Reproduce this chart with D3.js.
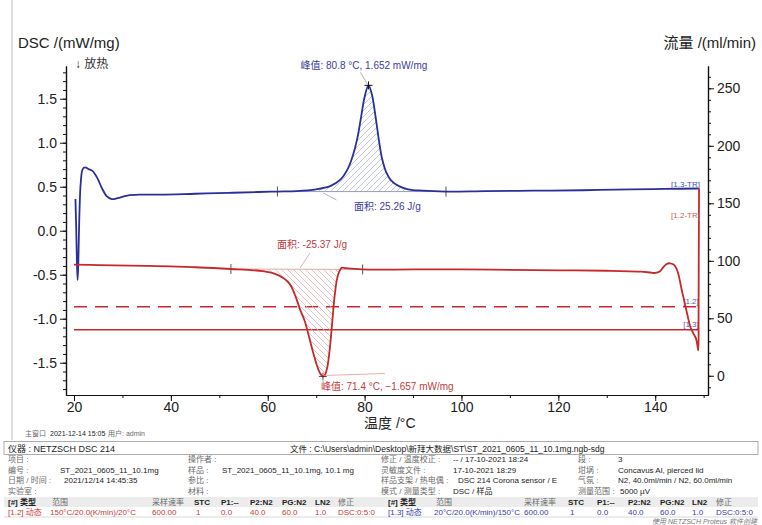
<!DOCTYPE html>
<html><head><meta charset="utf-8">
<script src="https://cdn.jsdelivr.net/npm/d3@7"></script>
<style>
body{margin:0;background:#fff;}
svg{display:block;font-family:"Liberation Sans",Arial,"Noto Sans CJK SC",sans-serif;}
</style>
</head><body>
<svg id="c" width="762" height="525"></svg>
<script>
// ---------- data ----------
// [1.3] heating 20 -> 150 °C  (DSC, mW/mg)
const blueT = [20.3,20.45,20.6,20.75,20.9,21.1,21.4,21.8,22.3,23.0,23.8,24.8,25.8,26.8,27.8,29.0,31.0,34.0,38.0,45.0,52.0,58.0,62.0,66.0,70.0,73.0,75.0,76.5,77.5,78.5,79.3,80.0,80.8,81.5,82.2,82.9,83.6,84.5,85.5,87.0,89.0,92.0,96.8,105,115,125,135,142,149.0];
const blueV = [0.36,0.05,-0.35,-0.56,-0.35,0.15,0.55,0.70,0.72,0.70,0.68,0.60,0.48,0.39,0.36,0.37,0.40,0.41,0.41,0.42,0.43,0.44,0.445,0.45,0.47,0.51,0.58,0.70,0.84,1.05,1.30,1.52,1.652,1.55,1.32,1.05,0.82,0.66,0.57,0.51,0.47,0.455,0.445,0.45,0.455,0.46,0.47,0.475,0.48];
// [1.2] cooling 150 -> 20 °C  (DSC, mW/mg)
const redT = [149.05,149.0,148.95,148.9,148.7,148.4,147.9,147.3,146.7,146.1,145.5,144.9,144.4,143.8,143.0,142.3,141.6,141.0,140.0,139.0,137.0,130,120,110,100,90,79.6,76.0,75.3,74.8,74.3,73.8,73.3,72.8,72.3,71.8,71.4,70.8,70.1,69.3,68.5,67.6,66.7,65.7,64.6,63.3,61.5,59.0,56.0,52.4,45,35,25,20.0];
const redV = [0.48,-0.2,-1.0,-1.36,-1.30,-1.22,-1.17,-1.10,-0.97,-0.82,-0.68,-0.52,-0.43,-0.385,-0.37,-0.38,-0.42,-0.46,-0.48,-0.475,-0.465,-0.455,-0.45,-0.445,-0.44,-0.44,-0.44,-0.425,-0.42,-0.46,-0.55,-0.75,-1.05,-1.35,-1.55,-1.64,-1.657,-1.62,-1.52,-1.37,-1.20,-1.02,-0.90,-0.74,-0.61,-0.54,-0.49,-0.46,-0.445,-0.435,-0.415,-0.40,-0.39,-0.385];
// purge gas flows (ml/min)
const flowNames = ["PG:N2","P2:N2"];
const flowValues = [60, 40];
const flowTRange = [20, 149];
// peaks and integrations
const peakNames = ["blue","red"];
const peakT = [80.8, 71.4];
const peakV = [1.652, -1.657];
const intFrom = [62.0, 52.4];
const intTo = [96.8, 79.6];
const areaValues = [25.26, -25.37];
// ticks
const xTicks = [20,40,60,80,100,120,140];
const yLeftTicks = [-1.5,-1.0,-0.5,0.0,0.5,1.0,1.5];
const yRightTicks = [0,50,100,150,200,250];

// ---------- layout ----------
const svg = d3.select("#c");
const X0=66, X1=708, Y0=66, Y1=395;
const x = d3.scaleLinear().domain([18.35,150.9]).range([X0,X1]);
const y = d3.scaleLinear().domain([-1.867,1.872]).range([Y1,Y0]);
const yr = d3.scaleLinear().domain([-16.7,269.4]).range([Y1,Y0]);
const BLUE="#2b2f9a", RED="#c42a2a";

// frame line on the left
svg.append("line").attr("x1",12).attr("x2",12).attr("y1",0).attr("y2",440).attr("stroke","#b8b8b8");

// patterns
const defs = svg.append("defs");
function hatch(id,color,dir){
  const p = defs.append("pattern").attr("id",id).attr("patternUnits","userSpaceOnUse").attr("width",6).attr("height",6);
  if(dir>0) p.append("path").attr("d","M-1,7 L7,-1 M-1,1 L1,-1 M5,7 L7,5");
  else p.append("path").attr("d","M-1,-1 L7,7 M5,-1 L7,1 M-1,5 L1,7");
  p.select("path").attr("stroke",color).attr("stroke-width",0.8).attr("fill","none");
}
hatch("hb","#b4b6d2",1);
hatch("hr","#dfb2b2",-1);

// axes
function styleAxis(g){
  g.selectAll("path.domain").attr("stroke","#111").attr("stroke-width",1.2);
  g.selectAll(".tick line").attr("stroke","#111");
  g.selectAll("text").attr("font-size",14).attr("fill","#222").attr("font-family","'Liberation Sans',Arial,sans-serif");
}
const minor = (a,b,s)=>d3.range(Math.ceil(a/s), Math.floor(b/s)+1).map(k=>+(k*s).toFixed(4));

const gl = svg.append("g").attr("transform",`translate(${X0},0)`);
gl.call(d3.axisLeft(y).tickValues(minor(-1.867,1.872,0.1)).tickSize(3).tickFormat("").tickSizeOuter(0));
const glM = svg.append("g").attr("transform",`translate(${X0},0)`)
  .call(d3.axisLeft(y).tickValues(yLeftTicks).tickSize(6).tickPadding(3).tickSizeOuter(0));
styleAxis(glM); styleAxis(gl);
glM.selectAll("text").text(d=>d3.format(".1f")(d).replace("−","-"));

const gb = svg.append("g").attr("transform",`translate(0,${Y1})`)
  .call(d3.axisBottom(x).tickValues(minor(18.35,150.9,10)).tickSize(3).tickFormat("").tickSizeOuter(0));
const gbM = svg.append("g").attr("transform",`translate(0,${Y1})`)
  .call(d3.axisBottom(x).tickValues(xTicks).tickSize(6).tickPadding(1).tickSizeOuter(0));
styleAxis(gb); styleAxis(gbM);

const gr = svg.append("g").attr("transform",`translate(${X1},0)`)
  .call(d3.axisRight(yr).tickValues(minor(-16.7,269.4,10)).tickSize(3).tickFormat("").tickSizeOuter(0));
const grM = svg.append("g").attr("transform",`translate(${X1},0)`)
  .call(d3.axisRight(yr).tickValues(yRightTicks).tickSize(6).tickPadding(3).tickSizeOuter(0));
styleAxis(gr); styleAxis(grM);

// axis titles
svg.append("text").attr("x",18).attr("y",48).attr("font-size",15).attr("fill","#222").text("DSC /(mW/mg)");
svg.append("text").attr("x",75).attr("y",68).attr("font-size",12).attr("fill","#333").text("↓ 放热");
svg.append("text").attr("x",756).attr("y",48).attr("font-size",15).attr("fill","#222").attr("text-anchor","end")
  .text("流量 /(ml/min)");
svg.append("text").attr("x",364).attr("y",428).attr("font-size",14).attr("fill","#222").text("温度 /°C");

// flow lines
const flowStyles = [{dash:"13,8"},{dash:null}];
flowValues.forEach((v,i)=>{
  const l = svg.append("line").attr("x1",x(flowTRange[0])).attr("x2",x(flowTRange[1]))
    .attr("y1",yr(v)).attr("y2",yr(v)).attr("stroke",RED).attr("stroke-width",1.4);
  if(flowStyles[i].dash) l.attr("stroke-dasharray",flowStyles[i].dash);
});
svg.append("text").attr("x",x(flowTRange[1])).attr("y",yr(flowValues[0])-3).attr("font-size",8).attr("fill","#5a5ab0").attr("text-anchor","end").text("[1.2]");
svg.append("text").attr("x",x(flowTRange[1])).attr("y",yr(flowValues[1])-3).attr("font-size",8).attr("fill","#5a5ab0").attr("text-anchor","end").text("[1.3]");

// helpers
const blue = blueT.map((t,i)=>({t,v:blueV[i]}));
const red = redT.map((t,i)=>({t,v:redV[i]}));
const line = d3.line().x(d=>x(d.t)).y(d=>y(d.v)).curve(d3.curveCatmullRom.alpha(0.5));
function valAt(arr,t){ return arr.find(d=>d.t===t).v; }

// integration areas
[[blue,0,"url(#hb)","#9a9cc0"],[red,1,"url(#hr)","#e3a8a8"]].forEach(([arr,i,fill,bl])=>{
  const a=intFrom[i], b=intTo[i];
  const va=valAt(arr,a), vb=valAt(arr,b);
  const base = t=> va+(vb-va)*(t-a)/(b-a);
  const seg = arr.filter(d=>d.t>=a && d.t<=b).sort((p,q)=>p.t-q.t);
  const area = d3.area().x(d=>x(d.t)).y0(d=>y(base(d.t))).y1(d=>y(d.v)).curve(d3.curveCatmullRom.alpha(0.5));
  svg.append("path").attr("d",area(seg)).attr("fill",fill).attr("stroke","none");
  svg.append("line").attr("x1",x(a)).attr("x2",x(b)).attr("y1",y(va)).attr("y2",y(vb)).attr("stroke",bl).attr("stroke-width",1);
  [a,b].forEach((t,k)=>{
    const v=k?vb:va;
    svg.append("line").attr("x1",x(t)).attr("x2",x(t)).attr("y1",y(v)-5).attr("y2",y(v)+5).attr("stroke","#555").attr("stroke-width",1);
  });
});

// curves
svg.append("path").attr("d",line(blue)).attr("fill","none").attr("stroke",BLUE).attr("stroke-width",1.8);
svg.append("path").attr("d",line(red)).attr("fill","none").attr("stroke",RED).attr("stroke-width",1.8);

// segment end labels
svg.append("text").attr("x",700).attr("y",187).attr("font-size",8).attr("fill","#4a4ab0").attr("text-anchor","end").text("[1.3-TR]");
svg.append("text").attr("x",700).attr("y",218).attr("font-size",8).attr("fill","#c06060").attr("text-anchor","end").text("[1.2-TR]");

// peak annotations
const fmt3 = d3.format(".3f");
{
  const px=x(peakT[0]), py=y(peakV[0]);
  svg.append("line").attr("x1",px-1).attr("y1",py-1).attr("x2",px-8).attr("y2",py-13).attr("stroke","#9a9ab8").attr("stroke-width",0.8);
  svg.append("path").attr("d",`M${px-4},${py}H${px+4}M${px},${py-4}V${py+4}`).attr("stroke","#111").attr("stroke-width",1);
  svg.append("text").attr("x",px-68).attr("y",py-16).attr("font-size",10).attr("fill","#3c3ca2")
    .text(`峰值: ${peakT[0]} °C, ${fmt3(peakV[0])} mW/mg`);
  const by = y(0.44);
  svg.append("line").attr("x1",x(71.5)).attr("y1",by+1).attr("x2",x(74.2)).attr("y2",by+8).attr("stroke","#9a9ab8").attr("stroke-width",0.8);
  svg.append("text").attr("x",354).attr("y",210).attr("font-size",10).attr("fill","#3c3ca2").text(`面积: ${areaValues[0]} J/g`);
}
{
  const px=x(peakT[1]), py=y(peakV[1]);
  svg.append("line").attr("x1",px).attr("y1",py-1).attr("x2",px+62).attr("y2",py-3).attr("stroke","#e09a9a").attr("stroke-width",0.8);
  svg.append("path").attr("d",`M${px-4},${py}H${px+4}M${px},${py-4}V${py+4}`).attr("stroke","#5a2020").attr("stroke-width",0.8);
  svg.append("text").attr("x",px-2).attr("y",py+13).attr("font-size",10).attr("fill","#c23a3a")
    .text(`峰值: ${peakT[1]} °C, ${fmt3(peakV[1])} mW/mg`);
  svg.append("line").attr("x1",310).attr("y1",253).attr("x2",300).attr("y2",268).attr("stroke","#d9a0a0").attr("stroke-width",0.8);
  svg.append("text").attr("x",277).attr("y",248).attr("font-size",10).attr("fill","#c23a3a").text(`面积: ${areaValues[1]} J/g`);
}

// ---------- footer / info table ----------
const info = svg.append("g").attr("font-size",8);
const gray="#6a6a6a", dark="#222";
function t(xp,yp,s,c){ return info.append("text").attr("x",xp).attr("y",yp).attr("fill",c||dark).text(s); }
t(25,436,"主窗口",gray).attr("font-size",7);
t(50,436,"2021-12-14 15:05",dark).attr("font-size",7);
t(108,436,"用户: admin",gray).attr("font-size",7);

info.append("rect").attr("x",4).attr("y",441.5).attr("width",754).attr("height",13).attr("fill","none").attr("stroke","#9a9a9a").attr("stroke-width",0.8);
t(8,451.5,"仪器 : NETZSCH DSC 214").attr("font-size",9);
t(290,451.5,"文件 : C:\\Users\\admin\\Desktop\\新拜大数据\\ST\\ST_2021_0605_11_10.1mg.ngb-sdg").attr("font-size",8.5);

const rowsY=[462,472.5,483,494];
const c1=[["项目 :",""],["编号 :","ST_2021_0605_11_10.1mg"],["日期 / 时间 :","2021/12/14 14:45:35"],["实验室 :",""]];
const c2=[["操作者 :",""],["样品 :","ST_2021_0605_11_10.1mg, 10.1 mg"],["参比 :",""],["材料 :",""]];
const c3=[["修正 / 温度校正 :","-- / 17-10-2021 18:24"],["灵敏度文件 :","17-10-2021 18:29"],["样品支架 / 热电偶 :","DSC 214 Corona sensor / E"],["模式 / 测量类型 :","DSC / 样品"]];
const c4=[["段 :","3"],["坩埚 :","Concavus Al, pierced lid"],["气氛 :","N2, 40.0ml/min / N2, 60.0ml/min"],["测量范围 :","5000 µV"]];
rowsY.forEach((yy,i)=>{
  t(8,yy,c1[i][0],gray); if(c1[i][1]) t(i===2?64:60,yy,c1[i][1]);
  t(188,yy,c2[i][0],gray); if(c2[i][1]) t(222,yy,c2[i][1]);
  t(381,yy,c3[i][0],gray); t(i===2?458:453,yy,c3[i][1]);
  t(578,yy,c4[i][0],gray); t(i===3?620:618,yy,c4[i][1]);
});
info.append("rect").attr("x",4).attr("y",497).attr("width",754).attr("height",10).attr("fill","#ececec");
info.append("line").attr("x1",4).attr("x2",758).attr("y1",517).attr("y2",517).attr("stroke","#cfcfcf").attr("stroke-width",0.8);
const hdr=["[#] 类型","范围","采样速率","STC","P1:--","P2:N2","PG:N2","LN2","修正"];
const lx=[8,52,152,194,221,250,282,315,338];
const rx=[388,436,524,568,597,628,660,692,716];
const row12=["[1.2] 动态","150°C/20.0(K/min)/20°C","600.00","1","0.0","40.0","60.0","1.0","DSC:0:5:0"];
const row13=["[1.3] 动态","20°C/20.0(K/min)/150°C","600.00","1","0.0","40.0","60.0","1.0","DSC:0:5:0"];
hdr.forEach((h,i)=>{
  const bold = /[A-Z#]/.test(h);
  t(lx[i],505,h,bold?dark:gray).attr("font-weight",bold?"bold":null);
  t(rx[i],505,h,bold?dark:gray).attr("font-weight",bold?"bold":null);
});
row12.forEach((s,i)=>t(i===1?50:lx[i]+(i===3?2:0),515,s,"#c83a3a"));
row13.forEach((s,i)=>t(i===1?434:rx[i]+(i===3?2:0),515,s,"#3a3ab0"));
t(757,523.5,"使用 NETZSCH Proteus 软件创建","#777").attr("text-anchor","end").attr("font-size",7).attr("font-style","italic");
</script>
</body></html>
